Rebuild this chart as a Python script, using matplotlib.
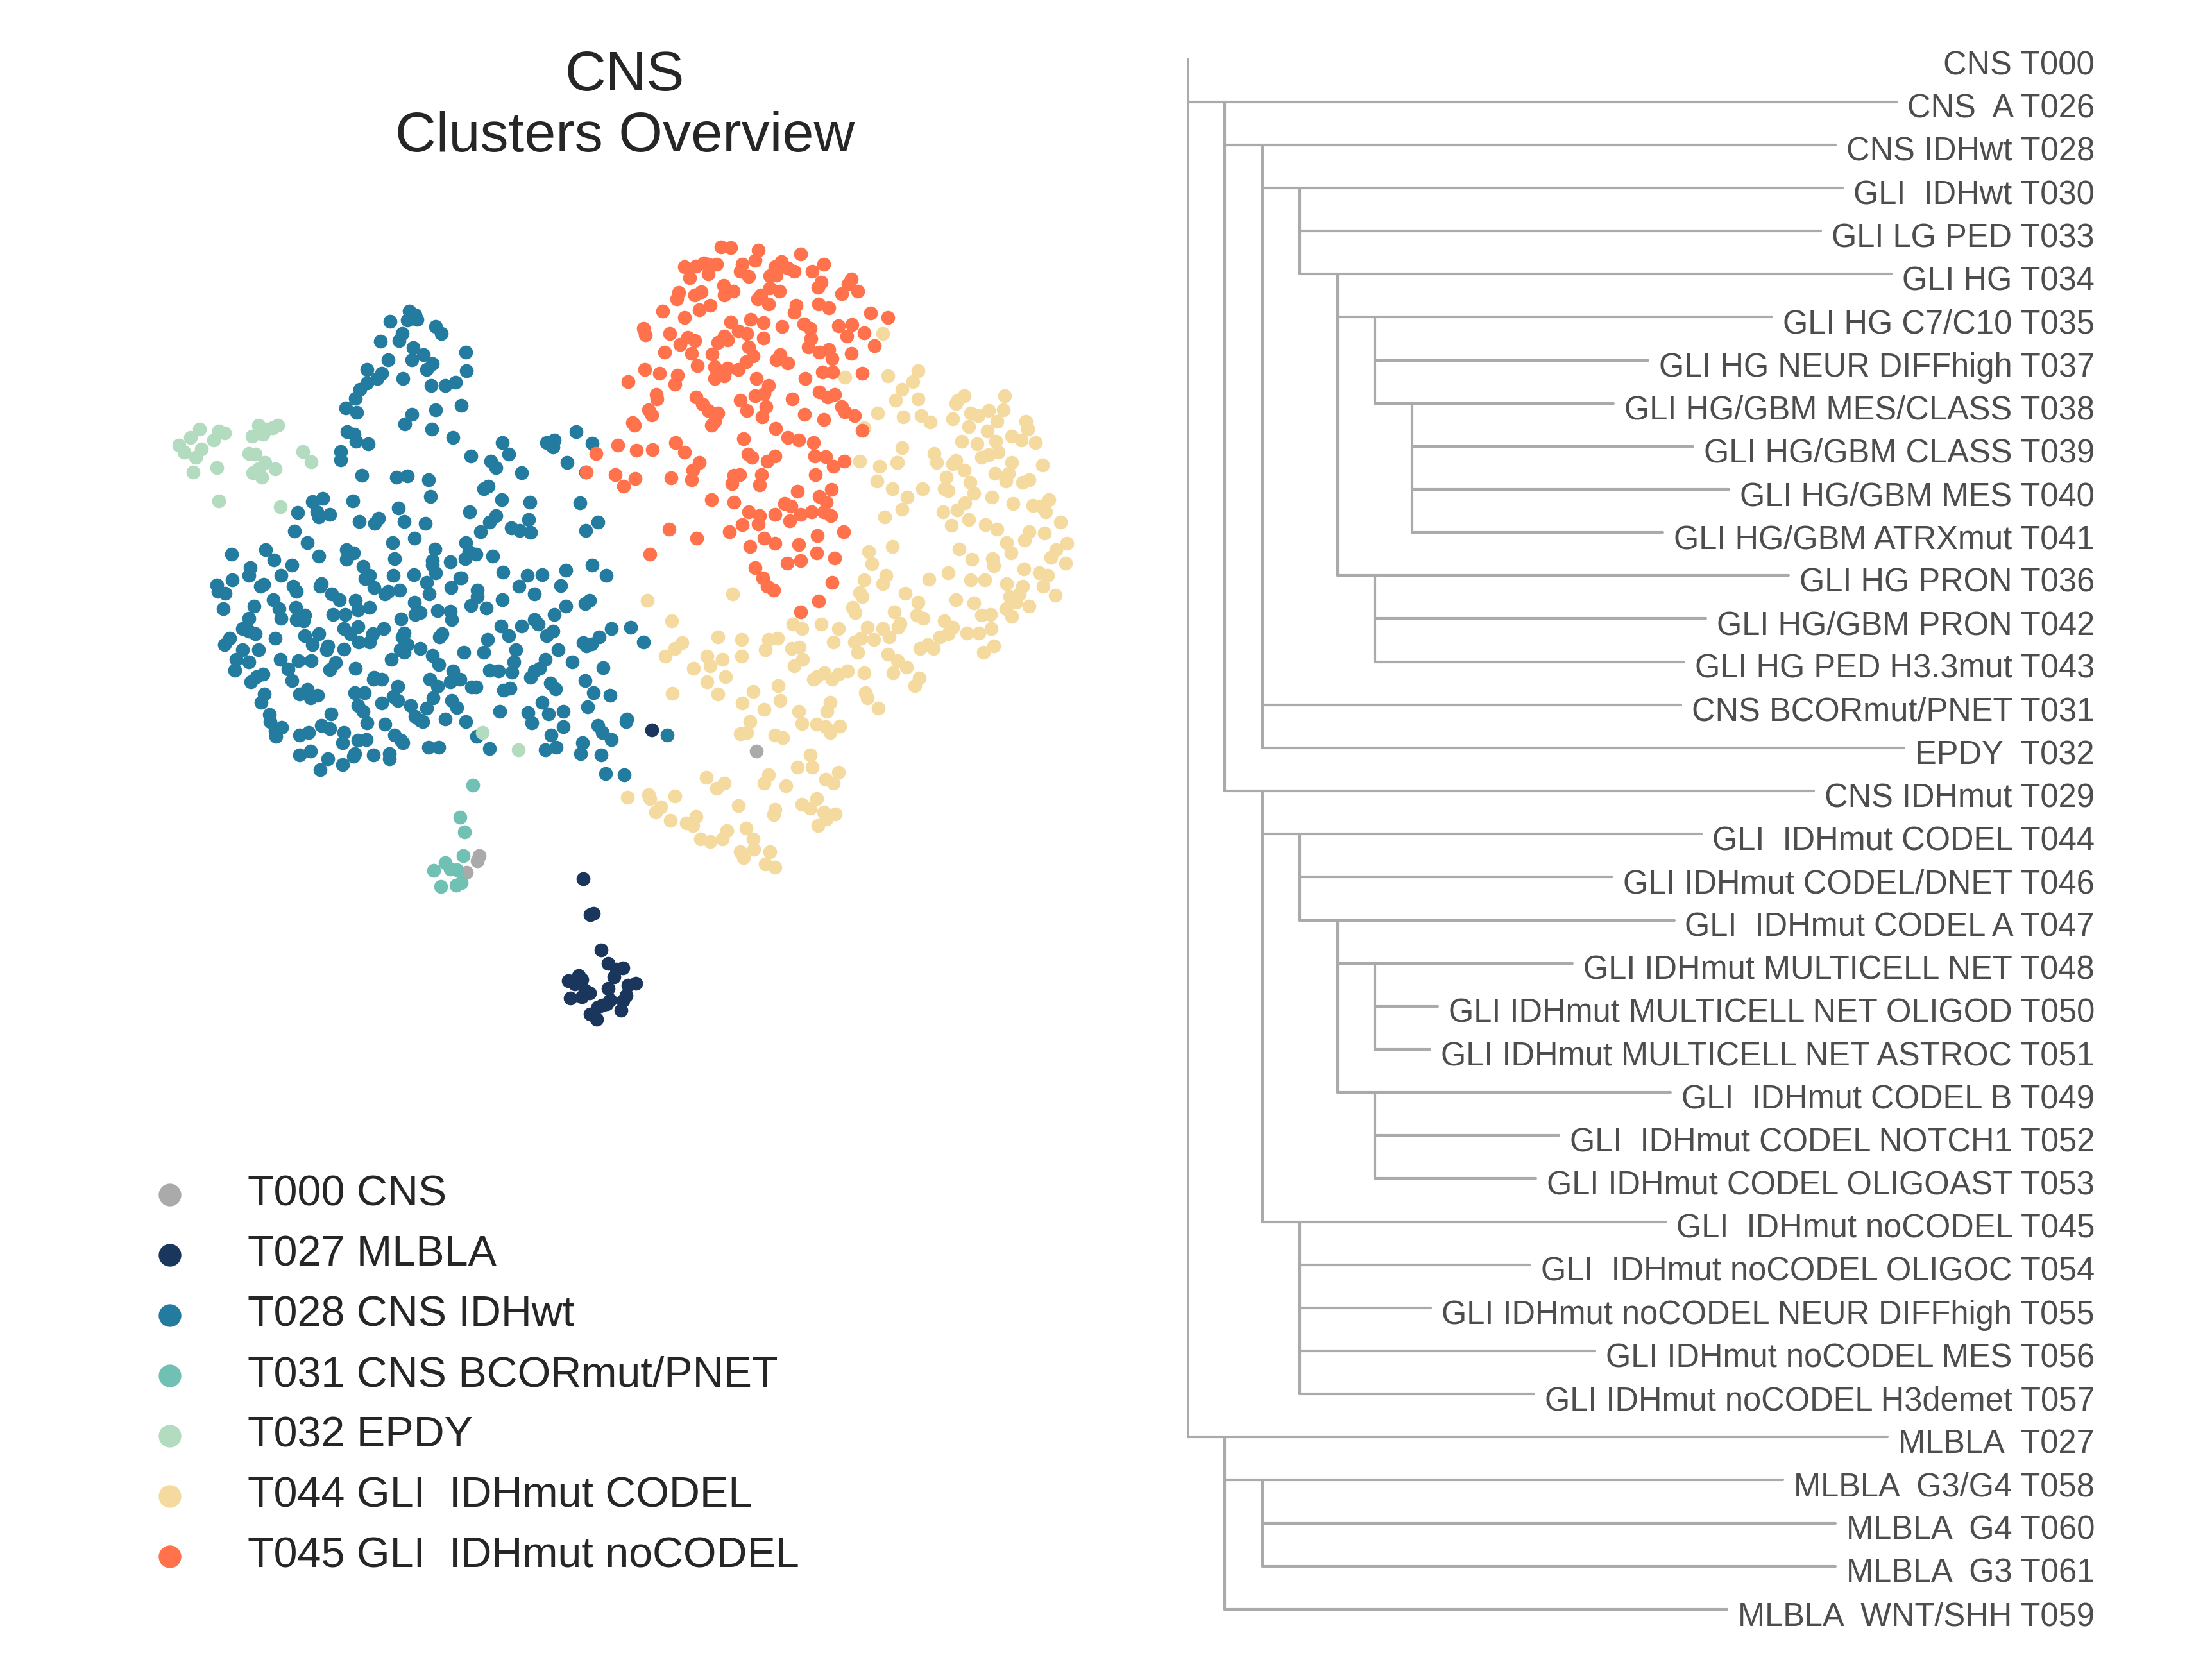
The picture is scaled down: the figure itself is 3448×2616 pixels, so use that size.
import numpy as np
import matplotlib
matplotlib.use("Agg")
import matplotlib.pyplot as plt

plt.rcParams['font.family'] = ['Liberation Sans', 'DejaVu Sans']

# --- embedding coordinates (arbitrary units) ---
pts_T000 = [(553, 1187), (550, 1197), (533, 1218), (990, 990)]

pts_T027 = [(825, 950), (717, 1230), (728, 1298), (733, 1295), (746, 1364), (757, 1390), (770, 1400),
            (780, 1398), (766, 1415), (710, 1412), (715, 1420), (694, 1422), (704, 1428), (720, 1440),
            (727, 1445), (757, 1437), (788, 1430), (800, 1427), (785, 1450), (697, 1455), (715, 1452),
            (760, 1458), (748, 1468), (740, 1472), (780, 1460), (777, 1478), (728, 1485), (738, 1495),
            (755, 1465)]

pts_T028 = [
    (443, 163), (413, 182), (440, 180), (455, 178), (452, 170), (485, 192), (494, 205), (432, 205), (427, 218),
    (398, 220), (449, 232), (532, 240), (410, 255), (447, 255), (465, 245), (480, 262), (470, 272), (533, 275),
    (376, 272), (400, 280), (392, 290), (376, 298), (433, 290), (500, 303), (516, 297), (477, 303), (365, 310),
    (358, 327), (525, 340), (343, 345), (360, 353), (485, 348), (447, 357), (436, 375), (478, 385), (345, 390),
    (356, 395), (359, 408), (335, 427), (335, 443), (378, 412), (512, 400), (540, 435), (368, 472), (423, 475),
    (440, 473), (473, 480), (476, 511), (590, 410), (600, 432), (572, 445), (580, 457), (620, 467), (560, 497),
    (568, 492), (589, 518), (633, 522), (660, 410), (672, 405), (670, 418), (706, 390), (731, 411), (692, 448),
    (721, 465), (712, 523), (741, 560), (721, 575),
    (290, 521), (297, 540), (307, 515), (318, 545), (300, 550), (267, 542), (354, 520), (395, 553), (388, 562),
    (364, 558), (426, 533), (435, 558), (468, 562), (451, 590), (417, 598), (420, 628), (484, 610), (480, 632),
    (262, 577), (282, 598), (300, 624), (344, 611), (355, 617), (344, 630), (163, 620), (216, 612), (230, 631),
    (258, 640), (241, 660), (192, 645), (190, 660), (164, 668), (140, 678), (142, 690), (153, 693), (150, 722),
    (208, 680), (213, 677), (260, 680), (265, 690), (305, 675), (302, 680), (370, 643), (380, 660), (373, 666),
    (387, 683), (405, 695), (410, 690), (428, 688), (418, 660), (450, 658), (470, 673), (485, 655), (480, 640),
    (508, 635), (525, 665), (537, 615), (531, 628), (548, 620), (575, 623), (532, 598), (555, 578), (570, 560),
    (580, 547), (538, 540), (604, 570), (617, 575), (631, 555), (634, 579),
    (229, 705), (238, 722), (241, 740), (198, 718), (190, 740), (180, 760), (200, 770), (190, 765), (232, 778),
    (160, 778), (152, 790), (180, 800), (205, 800), (170, 818), (190, 822), (168, 838), (193, 860), (212, 845),
    (214, 883), (209, 898), (223, 922), (224, 935), (233, 962), (242, 946), (264, 720), (278, 735), (265, 743),
    (276, 745), (278, 773), (290, 790), (300, 770), (313, 800), (321, 695), (333, 706), (358, 707), (323, 733),
    (342, 733), (362, 725), (380, 720), (340, 760), (362, 756), (363, 785), (380, 785), (385, 770), (403, 760),
    (315, 792), (340, 799), (350, 770), (318, 837), (327, 824), (358, 835), (386, 855), (400, 855), (415, 818),
    (432, 775), (435, 768), (430, 742), (452, 733), (460, 730), (451, 710), (474, 695), (488, 726), (509, 683),
    (523, 664), (508, 727), (510, 743), (495, 770), (491, 775), (460, 797), (440, 790), (429, 800), (435, 805),
    (480, 810), (490, 828), (512, 840), (529, 805), (560, 805), (567, 780), (588, 755), (600, 773), (611, 800),
    (608, 822), (620, 755), (640, 743), (629, 660), (652, 658), (616, 680), (640, 695), (682, 679), (690, 650),
    (731, 640), (754, 660), (672, 733), (690, 718), (720, 713), (727, 707), (646, 752), (660, 773), (670, 765),
    (678, 800), (700, 822), (658, 818), (717, 786), (722, 792), (730, 789), (743, 776), (762, 760), (792, 757),
    (812, 785), (540, 717), (564, 721), (550, 688), (550, 700), (590, 706), (591, 654),
    (202, 850), (240, 818), (252, 836), (258, 857), (270, 883), (282, 875), (287, 890), (298, 885), (268, 820),
    (288, 820), (320, 920), (357, 880), (370, 915), (362, 905), (376, 937), (372, 880), (387, 852), (425, 868),
    (418, 888), (425, 895), (400, 900), (445, 905), (452, 925), (460, 932), (470, 910), (475, 855), (488, 868),
    (481, 890), (510, 895), (518, 908), (508, 860), (523, 855), (548, 870), (570, 838), (584, 840), (592, 876),
    (602, 872), (541, 870), (586, 915), (500, 930), (532, 935), (605, 842), (634, 852), (640, 840), (648, 835),
    (652, 898), (630, 918), (636, 937), (663, 920), (686, 915), (720, 857), (733, 880), (760, 885), (724, 907),
    (749, 833), (740, 942), (748, 955), (762, 968), (785, 935), (786, 930), (850, 960), (782, 1035), (753, 1032),
    (746, 998), (713, 995), (716, 975), (667, 960), (675, 983), (658, 988), (686, 944), (666, 862), (674, 873),
    (270, 960), (284, 955), (305, 942), (318, 948), (340, 955), (338, 975), (362, 970), (375, 968), (357, 995),
    (355, 1000), (386, 998), (412, 995), (412, 1005), (430, 970), (433, 975), (420, 960), (405, 940), (464, 935),
    (473, 983), (490, 983), (549, 962), (570, 985), (270, 997), (287, 990), (302, 1025), (315, 1005), (338, 1015),
    (232, 952)]

pts_T031 = [(543, 1054), (523, 1115), (530, 1142), (528, 1187), (500, 1200), (482, 1215), (508, 1212),
            (518, 1213), (493, 1245), (517, 1242), (525, 1237)]

pts_T032 = [(112, 385), (98, 400), (80, 415), (88, 428), (106, 438), (115, 422), (135, 405), (143, 388),
            (152, 392), (102, 465), (140, 457), (143, 520), (195, 398), (205, 378), (212, 395), (218, 385),
            (228, 382), (236, 378), (190, 430), (200, 432), (215, 448), (232, 460), (196, 467), (210, 475),
            (205, 460), (275, 427), (288, 446), (240, 531), (558, 955), (615, 988)]

pts_T044 = [
    (1190, 205), (1130, 287), (1198, 285), (1245, 275), (1237, 295), (1220, 310), (1210, 330), (1245, 328),
    (1222, 362), (1250, 360), (1265, 372), (1182, 355), (1160, 382), (1153, 445), (1185, 455), (1212, 448),
    (1181, 483), (1205, 497), (1228, 513), (1220, 535), (1193, 550), (1252, 497), (1287, 497), (1300, 365),
    (1305, 337), (1318, 322), (1308, 330), (1328, 355), (1340, 360), (1357, 350), (1382, 322), (1380, 348),
    (1370, 370), (1393, 398), (1415, 370), (1418, 385), (1408, 405), (1430, 410), (1325, 380), (1355, 388),
    (1314, 408), (1338, 413), (1368, 408), (1271, 430), (1275, 448), (1300, 450), (1305, 444), (1318, 462),
    (1290, 475), (1327, 485), (1345, 438), (1357, 433), (1372, 428), (1393, 447), (1388, 468), (1367, 468),
    (1384, 483), (1410, 485), (1420, 480), (1442, 452), (1362, 513), (1395, 525), (1319, 524), (1307, 537),
    (1285, 540), (1298, 566), (1325, 555), (1352, 565), (1370, 573), (1293, 500), (1333, 505), (1426, 528),
    (1440, 530), (1452, 517), (1447, 540), (1470, 560), (1420, 578), (1445, 580), (1413, 593), (1385, 598),
    (1392, 618), (1480, 600), (1463, 612), (1455, 626), (1478, 637), (1412, 648), (1436, 655), (1450, 660),
    (1443, 680), (1410, 680), (1405, 695), (1420, 718), (1462, 697), (1385, 675), (1390, 700), (1400, 710),
    (1363, 628), (1365, 642), (1330, 630), (1310, 610), (1293, 655), (1262, 667), (1328, 668), (1350, 668),
    (1305, 705), (1333, 712), (1345, 735), (1360, 733), (1384, 722), (1393, 737), (1361, 760), (1341, 768),
    (1322, 768), (1365, 793), (1348, 805), (1287, 745), (1300, 757), (1293, 770), (1280, 776), (1260, 790),
    (1248, 797), (1270, 797), (1243, 735), (1253, 740), (1245, 710), (1225, 693), (1208, 728), (1217, 750),
    (1190, 760), (1214, 758), (1200, 775), (1175, 780), (1198, 808), (1213, 820), (1227, 832), (1206, 843),
    (1183, 910), (1160, 843), (1162, 880), (1165, 890), (1247, 853), (1240, 867), (1150, 805), (1134, 840),
    (1120, 845), (1110, 855), (1098, 843), (1085, 850), (1080, 855), (1050, 830), (1063, 818), (1046, 797),
    (1058, 795), (1024, 778), (1010, 780), (1005, 800), (1048, 752), (1062, 760), (1093, 752), (1112, 785),
    (1120, 760), (1145, 785), (1155, 778), (1165, 757), (1142, 720), (1146, 730), (1157, 700), (1160, 668),
    (1153, 692), (1190, 675), (1195, 660), (1172, 638), (1167, 615), (1205, 605), (1062, 938), (1085, 940),
    (1100, 945), (1107, 955), (1122, 943), (1102, 915), (1107, 898), (1057, 915), (1020, 960), (1032, 965),
    (1028, 895), (1025, 867), (1003, 912), (985, 878), (968, 900), (930, 883), (965, 958), (980, 935),
    (975, 955), (942, 850), (937, 818), (912, 812), (918, 830), (891, 835), (912, 860), (930, 775), (967, 780),
    (967, 812), (953, 695), (873, 787), (862, 797), (847, 812), (857, 745), (818, 707), (858, 882), (1075, 998),
    (1078, 1020), (1055, 1020), (1100, 1043), (1112, 1050), (1120, 1030), (1037, 1055), (1003, 1050),
    (1010, 1035), (940, 1050), (928, 1060), (911, 1040), (962, 1093), (1062, 1090), (1075, 1098), (1085, 1080),
    (1097, 1105), (1115, 1108), (1101, 1118), (1087, 1130), (1020, 1100), (1018, 1110), (974, 1135),
    (985, 1155), (1012, 1180), (1020, 1208), (1005, 1202), (965, 1180), (970, 1190), (986, 1175), (944, 1140),
    (937, 1155), (918, 1160), (902, 1155), (895, 1113), (880, 1125), (890, 1130), (855, 1120), (832, 1105),
    (840, 1095), (862, 1075), (820, 1072), (822, 1080), (787, 1077), (1220, 420), (1213, 448)]

pts_T045 = [
    (935, 42), (950, 43), (993, 48), (1060, 55), (988, 67), (907, 72), (895, 78), (915, 75), (928, 75), (877, 80),
    (968, 75), (1030, 70), (1040, 82), (1020, 80), (1050, 88), (1078, 88), (1097, 75), (1012, 97), (1022, 95),
    (885, 100), (914, 93), (965, 88), (978, 98), (1140, 103), (1135, 112), (1093, 108), (1087, 118), (1150, 125),
    (1125, 130), (1027, 125), (1012, 120), (939, 115), (954, 125), (940, 133), (903, 127), (893, 133), (868, 128),
    (865, 140), (997, 133), (992, 140), (1010, 150), (1089, 150), (1053, 152), (1050, 165), (1105, 157), (918, 152),
    (900, 160), (843, 163), (877, 175), (950, 183), (962, 200), (981, 178), (1002, 185), (1031, 192), (1065, 187),
    (1075, 195), (1120, 190), (1141, 188), (1160, 204), (1170, 167), (1198, 175), (1133, 210), (1076, 215),
    (1072, 230), (1090, 240), (1105, 235), (1110, 252), (1140, 242), (1176, 228), (812, 195), (815, 208),
    (854, 205), (882, 212), (893, 218), (870, 225), (940, 210), (930, 222), (945, 217), (975, 205), (1002, 213),
    (978, 230), (985, 247), (1022, 255), (1028, 245), (846, 240), (888, 242), (921, 244), (897, 265), (925, 268),
    (962, 272), (974, 258), (945, 270), (1040, 260), (1111, 278), (1157, 280), (788, 296), (814, 273), (838, 280),
    (866, 283), (862, 300), (925, 290), (940, 285), (990, 290), (1010, 303), (1003, 318), (988, 322), (1067, 290),
    (1095, 278), (833, 320), (834, 328), (895, 325), (905, 338), (914, 350), (930, 355), (925, 370), (920, 378),
    (965, 330), (975, 350), (1006, 342), (999, 362), (1021, 383), (1047, 328), (1090, 315), (1103, 325),
    (1114, 320), (1125, 343), (1130, 352), (1145, 360), (1157, 387), (1066, 357), (1097, 367), (820, 348),
    (825, 358), (795, 373), (798, 378), (970, 403), (1040, 400), (1057, 405), (1080, 410), (1082, 435),
    (1100, 437), (1112, 455), (1129, 445), (977, 432), (983, 438), (1008, 445), (1020, 435), (772, 415),
    (801, 425), (826, 423), (863, 410), (877, 428), (900, 447), (890, 462), (888, 480), (856, 476), (737, 430),
    (722, 465), (768, 470), (799, 478), (781, 492), (955, 472), (964, 470), (952, 487), (998, 470), (995, 490),
    (1083, 470), (1109, 498), (1055, 502), (920, 517), (955, 522), (1035, 525), (1045, 530), (1060, 545),
    (1090, 512), (1101, 522), (1097, 540), (1077, 540), (1108, 548), (1020, 545), (978, 540), (995, 547),
    (968, 565), (993, 563), (1043, 557), (853, 573), (896, 590), (948, 578), (980, 605), (1003, 590), (1020, 600),
    (1057, 602), (1086, 585), (1128, 578), (822, 620), (1060, 632), (1039, 637), (1085, 617), (1114, 627),
    (988, 645), (1000, 665), (1008, 680), (1018, 688), (1110, 673), (1089, 708), (1060, 728)]

cluster_ids = ["T000", "T027", "T028", "T031", "T032", "T044", "T045"]
cluster_names = ["T000 CNS", "T027 MLBLA", "T028 CNS IDHwt", "T031 CNS BCORmut/PNET", "T032 EPDY",
                 "T044 GLI  IDHmut CODEL", "T045 GLI  IDHmut noCODEL"]
cluster_points = [pts_T000, pts_T027, pts_T028, pts_T031, pts_T032, pts_T044, pts_T045]
palette = ["#aaaaaa", "#1a365d", "#247ba0", "#70c1b3", "#b2dbbf", "#f5daa0", "#ff724c"]

# --- taxonomy tree (row order top to bottom, parent index) ---
tree_labels = ["CNS T000", "CNS  A T026", "CNS IDHwt T028", "GLI  IDHwt T030", "GLI LG PED T033",
               "GLI HG T034", "GLI HG C7/C10 T035", "GLI HG NEUR DIFFhigh T037", "GLI HG/GBM MES/CLASS T038",
               "GLI HG/GBM CLASS T039", "GLI HG/GBM MES T040", "GLI HG/GBM ATRXmut T041", "GLI HG PRON T036",
               "GLI HG/GBM PRON T042", "GLI HG PED H3.3mut T043", "CNS BCORmut/PNET T031", "EPDY  T032",
               "CNS IDHmut T029", "GLI  IDHmut CODEL T044", "GLI IDHmut CODEL/DNET T046",
               "GLI  IDHmut CODEL A T047", "GLI IDHmut MULTICELL NET T048",
               "GLI IDHmut MULTICELL NET OLIGOD T050", "GLI IDHmut MULTICELL NET ASTROC T051",
               "GLI  IDHmut CODEL B T049", "GLI  IDHmut CODEL NOTCH1 T052", "GLI IDHmut CODEL OLIGOAST T053",
               "GLI  IDHmut noCODEL T045", "GLI  IDHmut noCODEL OLIGOC T054",
               "GLI IDHmut noCODEL NEUR DIFFhigh T055", "GLI IDHmut noCODEL MES T056",
               "GLI IDHmut noCODEL H3demet T057", "MLBLA  T027", "MLBLA  G3/G4 T058", "MLBLA  G4 T060",
               "MLBLA  G3 T061", "MLBLA  WNT/SHH T059"]
tree_parent = [None, 0, 1, 2, 3, 3, 5, 6, 6, 8, 8, 8, 5, 12, 12, 2, 2, 1, 17, 18, 18, 20, 21, 21, 20, 24, 24,
               17, 27, 27, 27, 27, 0, 32, 33, 33, 32]

W, H = 3448, 2616
DPI = 300
fig = plt.figure(figsize=(W / DPI, H / DPI), dpi=DPI)


def px_axes(left, top, right, bottom):
    return fig.add_axes([left / W, 1 - bottom / H, (right - left) / W, (bottom - top) / H])


# --- scatter ---
ax = px_axes(200, 350, 1750, 1650)
for pts, col in zip(cluster_points, palette):
    xy = np.array(pts, dtype=float)
    ax.scatter(xy[:, 0], xy[:, 1], s=27, color=col, linewidths=0)
ax.set_xlim(0, 1568)
ax.set_ylim(1568, 0)
ax.axis("off")

title_kw = dict(ha="center", va="baseline", fontsize=21.2, color="#262626")
fig.text(974 / W, 1 - 141 / H, "CNS", **title_kw)
fig.text(974 / W, 1 - 236 / H, "Clusters Overview", **title_kw)

# --- legend ---
lax = px_axes(200, 1816, 1400, 2474)
n = len(cluster_names)
lax.scatter(np.zeros(n), np.arange(n), s=72, c=palette, linewidths=0)
for i, name in enumerate(cluster_names):
    lax.text(1.0, i, name, ha="left", va="center", fontsize=15.95, color="#262626")
lax.set_xlim(-65 / 121, (1400 - 265) / 121)
lax.set_ylim(n - 0.5, -0.5)
lax.axis("off")

# --- dendrogram ---
nrow = len(tree_labels)
row0, row_h = 91.5, 67.15
dax = px_axes(1851, row0 - row_h / 2, 3265, row0 + (nrow - 0.5) * row_h)
xmax = (3265 - 1851) / 58.4
dax.set_xlim(0, xmax)
dax.set_ylim(nrow - 0.5, -0.5)
dax.axis("off")

depth = []
for i, p in enumerate(tree_parent):
    depth.append(0 if p is None else depth[p] + 1)

line_kw = dict(color="#aaaaaa", lw=1.0, solid_capstyle="round")
texts = []
for i, lab in enumerate(tree_labels):
    texts.append(dax.text(xmax, i + 0.374, lab, ha="right", va="baseline",
                          fontsize=12.15, color="#4d4d4d"))

renderer = fig.canvas.get_renderer()
inv = dax.transData.inverted()
for i, p in enumerate(tree_parent):
    children = [c for c, q in enumerate(tree_parent) if q == i]
    if children:
        dax.plot([depth[i], depth[i]], [i, children[-1]], **line_kw)
    if p is not None:
        bb = texts[i].get_window_extent(renderer)
        x_end = inv.transform((bb.x0 - 17, 0))[0]
        dax.plot([depth[p], x_end], [i, i], **line_kw)

fig.savefig("out.png", dpi=DPI)
